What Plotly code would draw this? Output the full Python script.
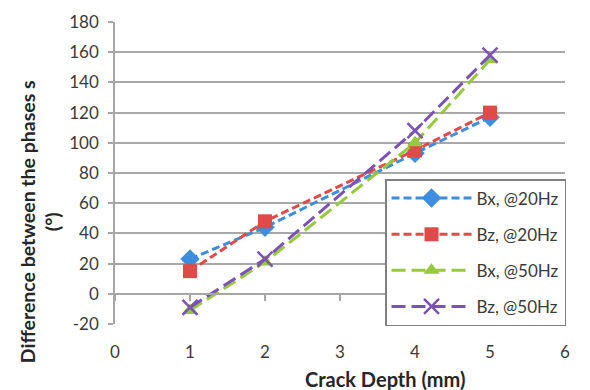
import plotly.graph_objects as go

depth = [1, 2, 4, 5]
bx20 = [23, 44, 93, 117]
bz20 = [15, 48, 95, 120]
bx50 = [-11, 21, 100, 155]
bz50 = [-9, 23, 108, 158]
names = ["Bx, @20Hz", "Bz, @20Hz", "Bx, @50Hz", "Bz, @50Hz"]
y_ticks = [-20, 0, 20, 40, 60, 80, 100, 120, 140, 160, 180]
y_tick_text = ["-20", "0", "20", "40", "60", "80", "100", "120", "140", "160", "180"]
x_ticks = [0, 1, 2, 3, 4, 5, 6]

series = [bx20, bz20, bx50, bz50]
colors = ["#3d8ede", "#e04a48", "#96c93c", "#7b52b8"]
symbols = ["diamond", "square", "triangle-up", "x-thin"]
sizes = [15, 14, 14, 15]
dashes = ["8px,4px", "8px,4px", "14px,6px", "14px,6px"]

fig = go.Figure()
for i, (y, n) in enumerate(zip(series, names)):
    mk = dict(symbol=symbols[i], size=sizes[i], color=colors[i])
    if symbols[i] == "x-thin":
        mk["line"] = dict(color=colors[i], width=2.5)
    fig.add_trace(go.Scatter(
        x=depth, y=y, name=n, mode="lines+markers",
        line=dict(color=colors[i], width=3, dash=dashes[i]),
        marker=mk, legendgroup=f"g{i}",
    ))

# x axis line crossing at y=0 with tick marks (Excel style)
fig.add_trace(go.Scatter(x=[0, 6], y=[0, 0], xaxis="x2", mode="lines",
                         line=dict(color="rgba(0,0,0,0)"), showlegend=False,
                         hoverinfo="skip"))

fig.update_layout(
    width=590, height=390,
    margin=dict(l=115, r=25, t=22, b=66),
    paper_bgcolor="white", plot_bgcolor="white",
    font=dict(family="Lato, Open Sans, sans-serif", size=17, color="#3a3a3a"),
    xaxis=dict(range=[0, 6], tickvals=x_ticks, showgrid=False, zeroline=False,
               showline=False, ticks="", tickfont=dict(size=17),
               ticklabelstandoff=16),
    xaxis2=dict(range=[0, 6], tickvals=x_ticks, overlaying="x", anchor="free",
                position=0.1, showgrid=False, zeroline=False, showline=True,
                linecolor="#a6a6a6", linewidth=1.5, ticks="outside", ticklen=6,
                tickcolor="#a6a6a6", tickwidth=1.5, showticklabels=False),
    yaxis=dict(range=[-20, 180], tickvals=y_ticks, ticktext=y_tick_text,
               showgrid=True, gridcolor="#a8a8a8",
               gridwidth=1.5, zeroline=False, showline=True, linecolor="#a6a6a6",
               linewidth=1.5, ticks="outside", ticklen=5, tickcolor="#a6a6a6",
               tickwidth=1.5, tickfont=dict(size=17), ticklabelstandoff=6),
    legend=dict(x=0.6, y=0.48, xanchor="left", yanchor="top",
                bgcolor="white", bordercolor="#808080", borderwidth=1.5,
                font=dict(size=17, color="#3a3a3a"), tracegroupgap=11,
                itemwidth=80),
    showlegend=True,
    annotations=[
        dict(text="<b>Crack Depth (mm)</b>", xref="paper", yref="paper",
             x=0.602, y=-0.182, xanchor="center", yanchor="middle",
             showarrow=False, font=dict(size=20, color="#262626")),
        dict(text="<b>Difference between the phases s<br>(°)</b>",
             xref="paper", yref="paper", x=-0.167, y=0.34, textangle=-90,
             xanchor="center", yanchor="middle", showarrow=False,
             font=dict(size=19.5, color="#262626")),
    ],
)

fig.write_html("out.html")
